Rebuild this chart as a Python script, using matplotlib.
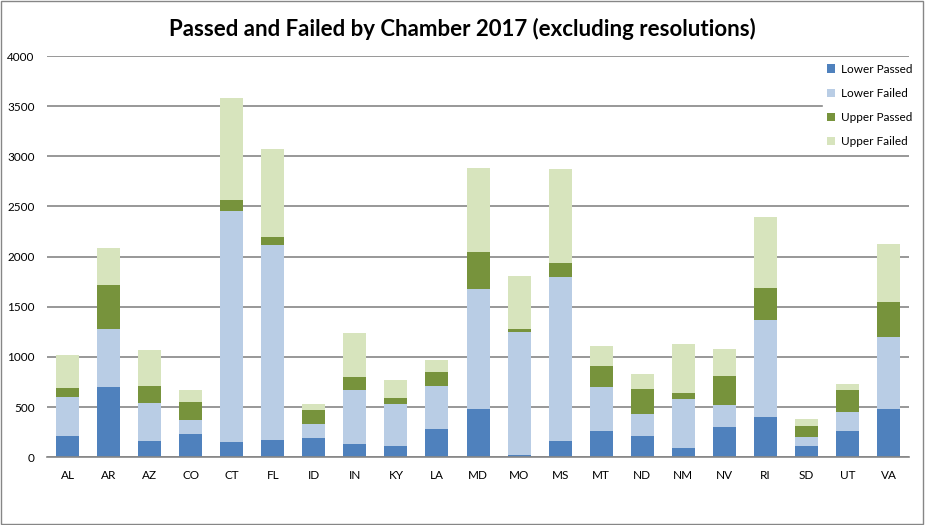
import numpy as np
import matplotlib.pyplot as plt
from matplotlib.patches import Rectangle

plt.rcParams['font.family'] = ['Lato', 'DejaVu Sans']

states = ['AL', 'AR', 'AZ', 'CO', 'CT', 'FL', 'ID', 'IN', 'KY', 'LA', 'MD',
          'MO', 'MS', 'MT', 'ND', 'NM', 'NV', 'RI', 'SD', 'UT', 'VA']
lower_passed = [213, 703, 163, 233, 153, 173, 193, 133, 113, 283, 483,
                23, 163, 263, 213, 93, 303, 403, 113, 263, 483]
lower_failed = [390, 580, 380, 140, 2300, 1940, 140, 540, 420, 430, 1190,
                1230, 1630, 440, 220, 490, 220, 970, 90, 190, 720]
upper_passed = [90, 430, 170, 180, 110, 80, 140, 130, 60, 140, 370,
                30, 140, 210, 250, 60, 290, 310, 110, 220, 340]
upper_failed = [330, 370, 360, 120, 1020, 880, 60, 440, 180, 120, 840,
                520, 940, 200, 150, 490, 270, 710, 70, 60, 580]

series = [('Lower Passed', lower_passed, '#4F81BD'),
          ('Lower Failed', lower_failed, '#B9CDE5'),
          ('Upper Passed', upper_passed, '#77933C'),
          ('Upper Failed', upper_failed, '#D7E4BD')]

fig = plt.figure(figsize=(9.25, 5.25), dpi=100)
ax = fig.add_axes([0.0508, 0.129, 0.932, 0.7643])

x = np.arange(len(states))
bottom = np.zeros(len(states))
for name, vals, col in series:
    ax.bar(x, vals, 0.56, bottom=bottom, color=col, label=name, zorder=2)
    bottom += np.array(vals)

ax.set_xlim(-0.5, len(states) - 0.5)
ax.set_ylim(0, 4000)
ax.set_yticks(np.arange(0, 4001, 500))
ax.set_xticks(x)
ax.set_xticklabels(states)
ax.yaxis.grid(True, color='#868686', linewidth=1.2, zorder=0)
ax.set_axisbelow(True)
for s in ['top', 'right', 'left']:
    ax.spines[s].set_visible(False)
ax.spines['bottom'].set_color('#868686')
ax.spines['bottom'].set_linewidth(1.2)
ax.tick_params(axis='both', length=0, labelsize=8.5, colors='black')
ax.tick_params(axis='y', pad=9)
ax.tick_params(axis='x', pad=9)

fig.suptitle('Passed and Failed by Chamber 2017 (excluding resolutions)',
             fontsize=16, fontweight='bold', y=0.965)

leg = ax.legend(loc='upper left', bbox_to_anchor=(823 / 925, 1 - 60 / 525),
                bbox_transform=fig.transFigure, fontsize=8.5, frameon=True,
                edgecolor='white', facecolor='white', framealpha=1,
                handlelength=0.7, handleheight=0.7, handletextpad=0.5,
                labelspacing=1.12, borderpad=0.3, borderaxespad=0)
leg.set_zorder(5)

fig.patches.append(Rectangle((0.001, 0.001), 0.997, 0.997, transform=fig.transFigure,
                             fill=False, edgecolor='#868686', linewidth=1))

fig.savefig('out.png', dpi=100)
